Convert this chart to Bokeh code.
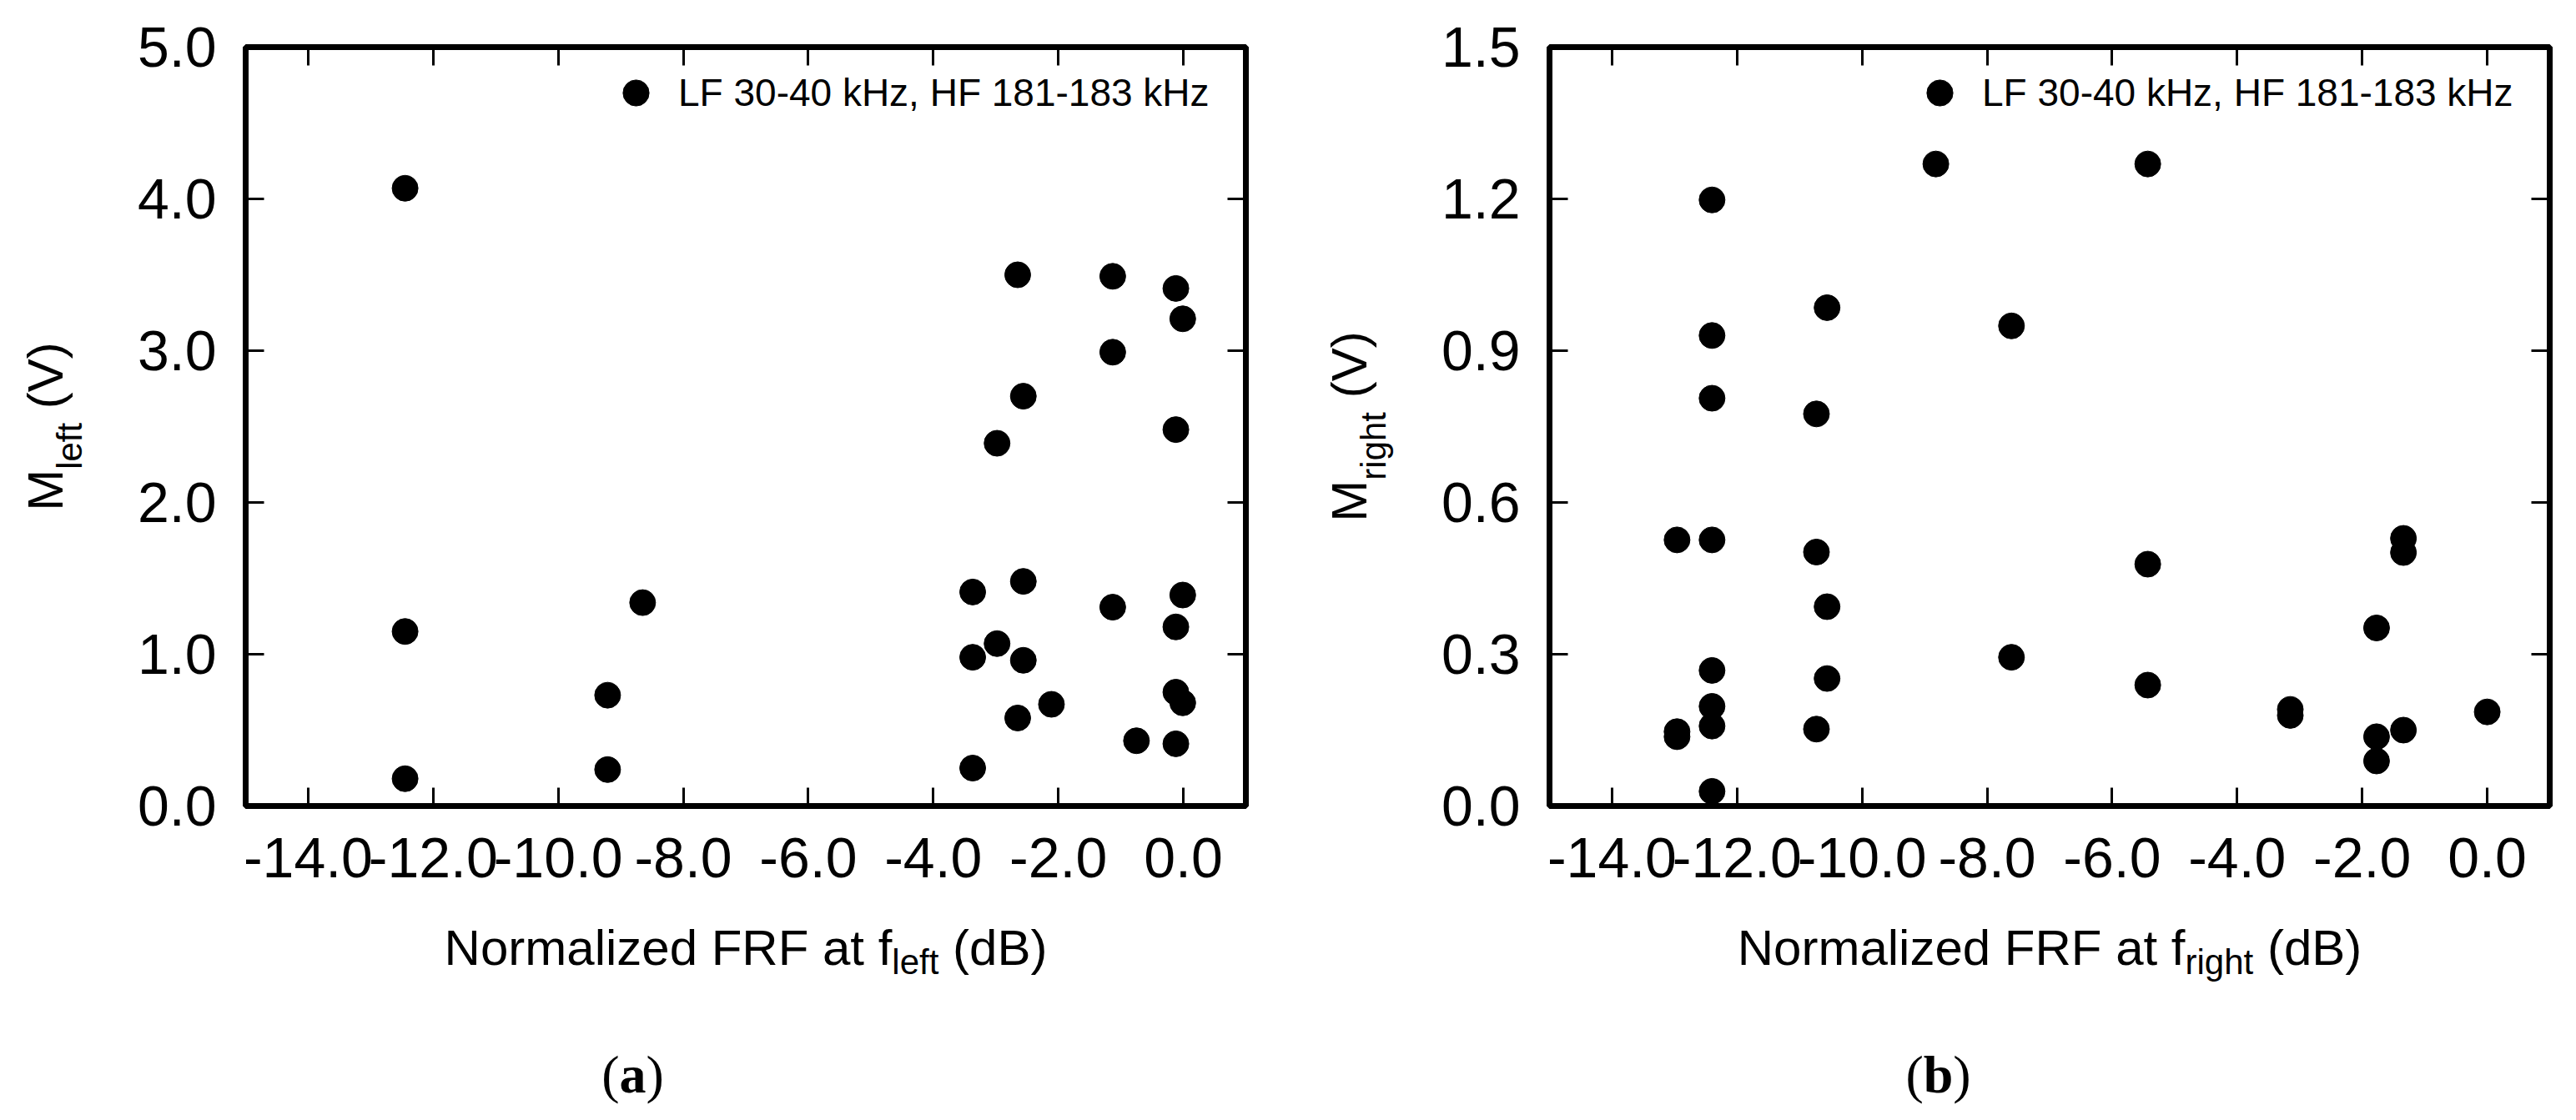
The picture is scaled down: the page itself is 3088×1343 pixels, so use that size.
import math
from bokeh.plotting import figure
from bokeh.models import (LinearAxis, FixedTicker, NumeralTickFormatter,
                          CustomJSTickFormatter, Legend, LegendItem, Range1d)
from bokeh.layouts import gridplot
from bokeh.core.properties import value
from bokeh.embed import file_html
from bokeh.resources import INLINE

# ---------------- data ----------------
x_left = [-12.45, -12.45, -12.45, -9.21, -9.21, -8.65, -3.37, -3.37, -3.37,
          -2.98, -2.98, -2.65, -2.65, -2.56, -2.56, -2.56, -2.11, -1.13,
          -1.13, -1.13, -0.75, -0.12, -0.01, -0.12, -0.12, -0.01, -0.12,
          -0.01, -0.12]
y_left = [4.07, 1.15, 0.18, 0.73, 0.24, 1.34, 1.41, 0.98, 0.25,
          2.39, 1.07, 3.50, 0.58, 2.70, 1.48, 0.96, 0.67, 3.49,
          2.99, 1.31, 0.43, 3.41, 3.21, 2.48, 1.18, 1.39, 0.75,
          0.68, 0.41]

x_right = [-12.96, -12.96, -12.96,
           -12.40, -12.40, -12.40, -12.40, -12.40, -12.40, -12.40, -12.40,
           -10.73, -10.73, -10.73, -10.56, -10.56, -10.56,
           -8.82, -7.61, -7.61, -5.43, -5.43, -5.43,
           -3.15, -3.15, -1.77, -1.77, -1.77, -1.34, -1.34, -1.34, 0.0]
y_right = [0.526, 0.147, 0.137,
           1.198, 0.930, 0.806, 0.526, 0.268, 0.197, 0.158, 0.029,
           0.775, 0.502, 0.152, 0.985, 0.394, 0.252,
           1.269, 0.949, 0.294, 1.269, 0.478, 0.239,
           0.191, 0.179, 0.352, 0.137, 0.089, 0.529, 0.501, 0.150, 0.186]

x_ticks = [-14, -12, -10, -8, -6, -4, -2, 0]
y_ticks_left = [0, 1, 2, 3, 4, 5]
y_ticks_right = [0, 0.3, 0.6, 0.9, 1.2, 1.5]
legend_label = "LF 30-40 kHz, HF 181-183 kHz"
x_title = "Normalized FRF at f"
x_title_end = "(dB)"
y_title = "M"
y_title_end = "(V)"
subscripts = ["left", "right"]
captions = ["a", "b"]

SANS = "Liberation Sans"
SERIF = "Liberation Serif"

ARIAL = {' ': 278, '(': 333, ')': 333, '-': 333, '.': 278, ',': 278,
         'A': 667, 'B': 667, 'F': 611, 'H': 722, 'L': 556, 'M': 833, 'N': 722,
         'R': 722, 'V': 667, 'a': 556, 'd': 556, 'e': 556, 'f': 278, 'g': 556,
         'h': 556, 'i': 222, 'k': 500, 'l': 222, 'm': 833, 'n': 556, 'o': 556,
         'r': 333, 't': 278, 'z': 500}


def tw(s, size):
    return sum(ARIAL.get(c, 556) for c in s) * size / 1000.0


PAGE_H = 1340       # total height of layout
FW, FH = 1199, 910  # frame size
BT = 56             # frame top (page px)
MAIN_H = 1100       # height of the plotting row
XH = PAGE_H - MAIN_H
YW = 140            # width of the y-title strip
MS, SS = 60, 42     # title / subscript font sizes
CS = 64             # caption font size
LIFT = 0.35         # baseline correction (em)


def style_axis(ax, ticks, show, standoff):
    ax.ticker = FixedTicker(ticks=ticks)
    ax.axis_line_color = None
    ax.major_tick_in = 22
    ax.major_tick_out = 0
    ax.major_tick_line_width = 3
    ax.major_tick_line_color = "black"
    ax.minor_tick_line_color = None
    ax.major_label_text_font = SANS
    ax.major_label_text_color = "black"
    if show:
        ax.formatter = NumeralTickFormatter(format="0.0")
        ax.major_label_text_font_size = "68px"
        ax.major_label_standoff = standoff
    else:
        ax.formatter = CustomJSTickFormatter(code="return ''")
        ax.major_label_text_font_size = "10px"
        ax.major_label_standoff = 0
    ax.axis_label = None


def blank(width, height, xr, yr, bl=0, br=0, bt=0, bb=0):
    f = figure(width=width, height=height, x_range=Range1d(*xr),
               y_range=Range1d(*yr), output_backend="svg",
               toolbar_location=None, x_axis_type=None, y_axis_type=None,
               min_border_left=bl, min_border_right=br, min_border_top=bt,
               min_border_bottom=bb)
    f.outline_line_color = None
    f.xgrid.visible = False
    f.ygrid.visible = False
    f.background_fill_color = "white"
    f.border_fill_color = "white"
    return f


def txt(f, x, y, s, size, font=SANS, style="normal", angle=0.0):
    # shift the baseline "up" in the text's own frame
    if angle:
        x -= LIFT * size
    else:
        y += LIFT * size
    f.text(x=[x], y=[y], text=[s], angle=angle, text_font=value(font),
           text_font_size=value(f"{size}px"), text_font_style=style,
           text_align="left", text_baseline="alphabetic", text_color="black")


def panel(xs, ys, yticks, ymax, sub, cap, ox, frame_left, panel_w, cap_dx):
    main_w = panel_w - YW
    bl = frame_left - (ox + YW)
    br = main_w - bl - FW
    bb = MAIN_H - BT - FH
    p = figure(width=main_w, height=MAIN_H, x_range=Range1d(-15, 1),
               y_range=Range1d(0, ymax), output_backend="svg",
               toolbar_location=None, min_border_left=bl,
               min_border_right=br, min_border_top=BT,
               min_border_bottom=bb)
    p.xgrid.visible = False
    p.ygrid.visible = False
    p.outline_line_color = "black"
    p.outline_line_width = 7
    p.background_fill_color = "white"
    p.border_fill_color = "white"

    style_axis(p.xaxis[0], x_ticks, True, 38)
    style_axis(p.yaxis[0], yticks, True, 35)
    top = LinearAxis()
    style_axis(top, x_ticks, False, 0)
    p.add_layout(top, "above")
    right = LinearAxis()
    style_axis(right, yticks, False, 0)
    p.add_layout(right, "right")

    r = p.scatter(xs, ys, size=31, color="black", marker="circle")

    leg = Legend(items=[LegendItem(label=legend_label, renderers=[r])],
                 location=(429, 816), glyph_width=78, glyph_height=78,
                 padding=0, margin=0, spacing=0, label_standoff=12,
                 border_line_color=None, background_fill_alpha=0,
                 label_text_font=SANS, label_text_font_size="46px",
                 label_text_color="black")
    p.add_layout(leg)

    # ---- y title strip: frame rows aligned with the plot frame ----
    fy = blank(YW, MAIN_H, (0, YW), (0, FH), bt=BT, bb=bb)
    sp = tw(" ", MS)
    total = tw(y_title, MS) + tw(sub, SS) + sp + tw(y_title_end, MS)
    y0 = FH / 2 - total / 2
    bx = frame_left - 219.5 - ox
    a = math.pi / 2
    txt(fy, bx, y0, y_title, MS, angle=a)
    txt(fy, bx + 17 + LIFT * (MS - SS), y0 + tw(y_title, MS), sub, SS,
        angle=a)
    txt(fy, bx, y0 + tw(y_title, MS) + tw(sub, SS) + sp, y_title_end, MS,
        angle=a)

    # ---- x title + caption strip: frame columns aligned with plot ----
    fx = blank(main_w, XH, (0, FW), (0, XH), bl=bl, br=br)
    total = tw(x_title, MS) + tw(sub, SS) + sp + tw(x_title_end, MS)
    x0 = FW / 2 - total / 2
    base = PAGE_H - 1157
    txt(fx, x0, base, x_title, MS)
    txt(fx, x0 + tw(x_title, MS), base - 17 + LIFT * (MS - SS), sub, SS)
    txt(fx, x0 + tw(x_title, MS) + tw(sub, SS) + sp, base, x_title_end, MS)

    wp = 0.333 * CS
    wl = (0.5 if cap == "a" else 0.556) * CS
    c0 = cap_dx - (2 * wp + wl) / 2
    cb = PAGE_H - 1310
    txt(fx, c0, cb, "(", CS, font=SERIF)
    txt(fx, c0 + wp, cb, cap, CS, font=SERIF, style="bold")
    txt(fx, c0 + wp + wl, cb, ")", CS, font=SERIF)

    return fy, p, fx


fy1, p1, fx1 = panel(x_left, y_left, y_ticks_left, 5.0, subscripts[0],
                     captions[0], 0, 294, 1548, 464)
fy2, p2, fx2 = panel(x_right, y_right, y_ticks_right, 1.5, subscripts[1],
                     captions[1], 1548, 1857, 1532, 466)

layout = gridplot([[fy1, p1, fy2, p2], [None, fx1, None, fx2]],
                  toolbar_location=None)
open("out.html", "w").write(file_html(layout, INLINE))
